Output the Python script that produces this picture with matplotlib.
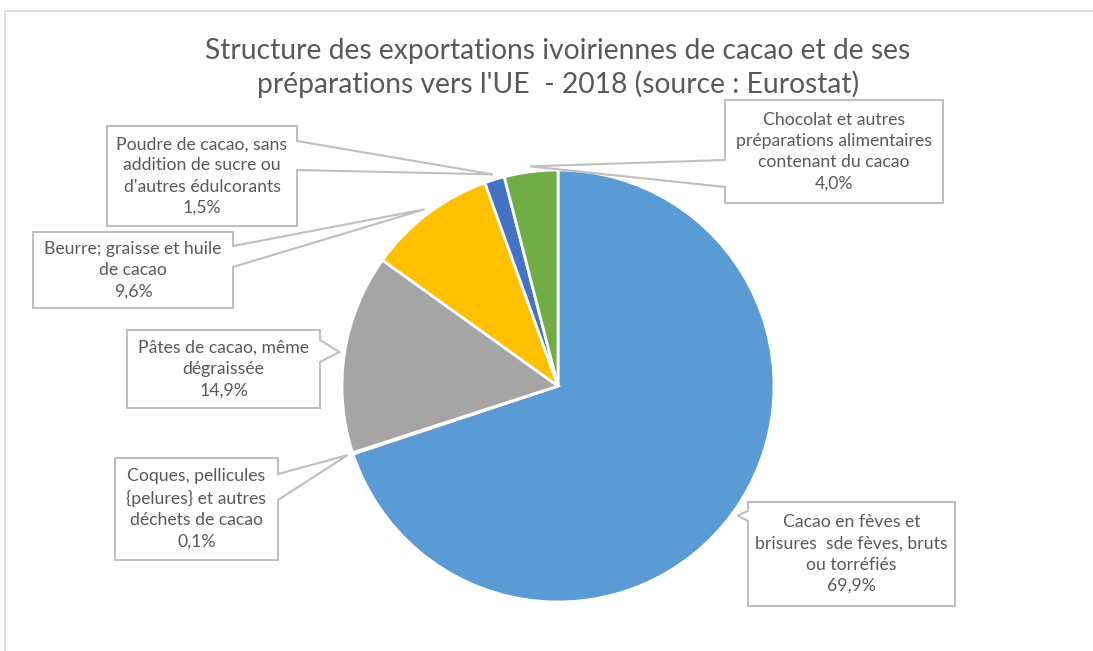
import matplotlib
matplotlib.use("Agg")
import matplotlib.pyplot as plt
import numpy as np
from matplotlib.patches import Polygon

W, H = 1093, 651

title = "Structure des exportations ivoiriennes de cacao et de ses\npréparations vers l'UE  - 2018 (source : Eurostat)"

labels = [
    "Cacao en fèves et\nbrisures  sde fèves, bruts\nou torréfiés",
    "Coques, pellicules\n{pelures} et autres\ndéchets de cacao",
    "Pâtes de cacao, même\ndégraissée",
    "Beurre; graisse et huile\nde cacao",
    "Poudre de cacao, sans\naddition de sucre ou\nd'autres édulcorants",
    "Chocolat et autres\npréparations alimentaires\ncontenant du cacao",
]
shares = [69.9, 0.1, 14.9, 9.6, 1.5, 4.0]
colors = ["#5B9BD5", "#ED7D31", "#A5A5A5", "#FFC000", "#4472C4", "#70AD47"]

# label boxes in pixel coords: (left, top, right, bottom), side of pointer, base span
boxes = [
    ((748, 502, 955, 606), "left", (511, 521)),
    ((115, 458, 278, 560), "right", (474, 500)),
    ((127, 330, 320, 408), "right", (340, 362)),
    ((33, 232, 233, 308), "right", (246, 267)),
    ((107, 126, 297, 226), "right", (141, 170)),
    ((725, 100, 943, 203), "left", (160, 187)),
]

cx, cy, r = 558, 386, 216
text_color = "#595959"
edge_color = "#BFBFBF"
plt.rcParams["font.family"] = ["Lato", "DejaVu Sans"]


def Y(py):
    return H - py


fig = plt.figure(figsize=(W / 100, H / 100), dpi=100)
ax = fig.add_axes([0, 0, 1, 1])
ax.pie(shares, colors=colors, startangle=90, counterclock=False,
       center=(cx, Y(cy)), radius=r,
       wedgeprops=dict(edgecolor="white", linewidth=2))
ax.set_xlim(0, W)
ax.set_ylim(0, H)
ax.set_aspect("equal")
ax.axis("off")

# outer chart frame
ax.plot([5, 5, W], [0, Y(11), Y(11)], color="#D9D9D9", lw=1.2)

ax.text(cx, Y(68), title, ha="center", va="center", fontsize=20.3,
        color=text_color, linespacing=1.25)

cum = np.cumsum([0] + shares[:-1])
for lab, s, c0, (box, side, base) in zip(labels, shares, cum, boxes):
    theta = np.deg2rad((c0 + s / 2) * 3.6)
    tx = cx + r * 1.025 * np.sin(theta)
    ty = cy - r * 1.025 * np.cos(theta)
    l, t, rr, b = box
    if side == "right":
        pts = [(l, t), (rr, t), (rr, base[0]), (tx, ty), (rr, base[1]), (rr, b), (l, b)]
    else:
        pts = [(l, t), (rr, t), (rr, b), (l, b), (l, base[1]), (tx, ty), (l, base[0])]
    pts = [(x, Y(y)) for x, y in pts]
    ax.add_patch(Polygon(pts, closed=True, facecolor="white",
                         edgecolor=edge_color, lw=1.5, zorder=3))
    ax.text((l + rr) / 2, Y((t + b) / 2), f"{lab}\n{s:.1f}%".replace(".", ","),
            ha="center", va="center", fontsize=12.7, color=text_color,
            linespacing=1.4, zorder=4)

fig.savefig("out.png", dpi=100)
